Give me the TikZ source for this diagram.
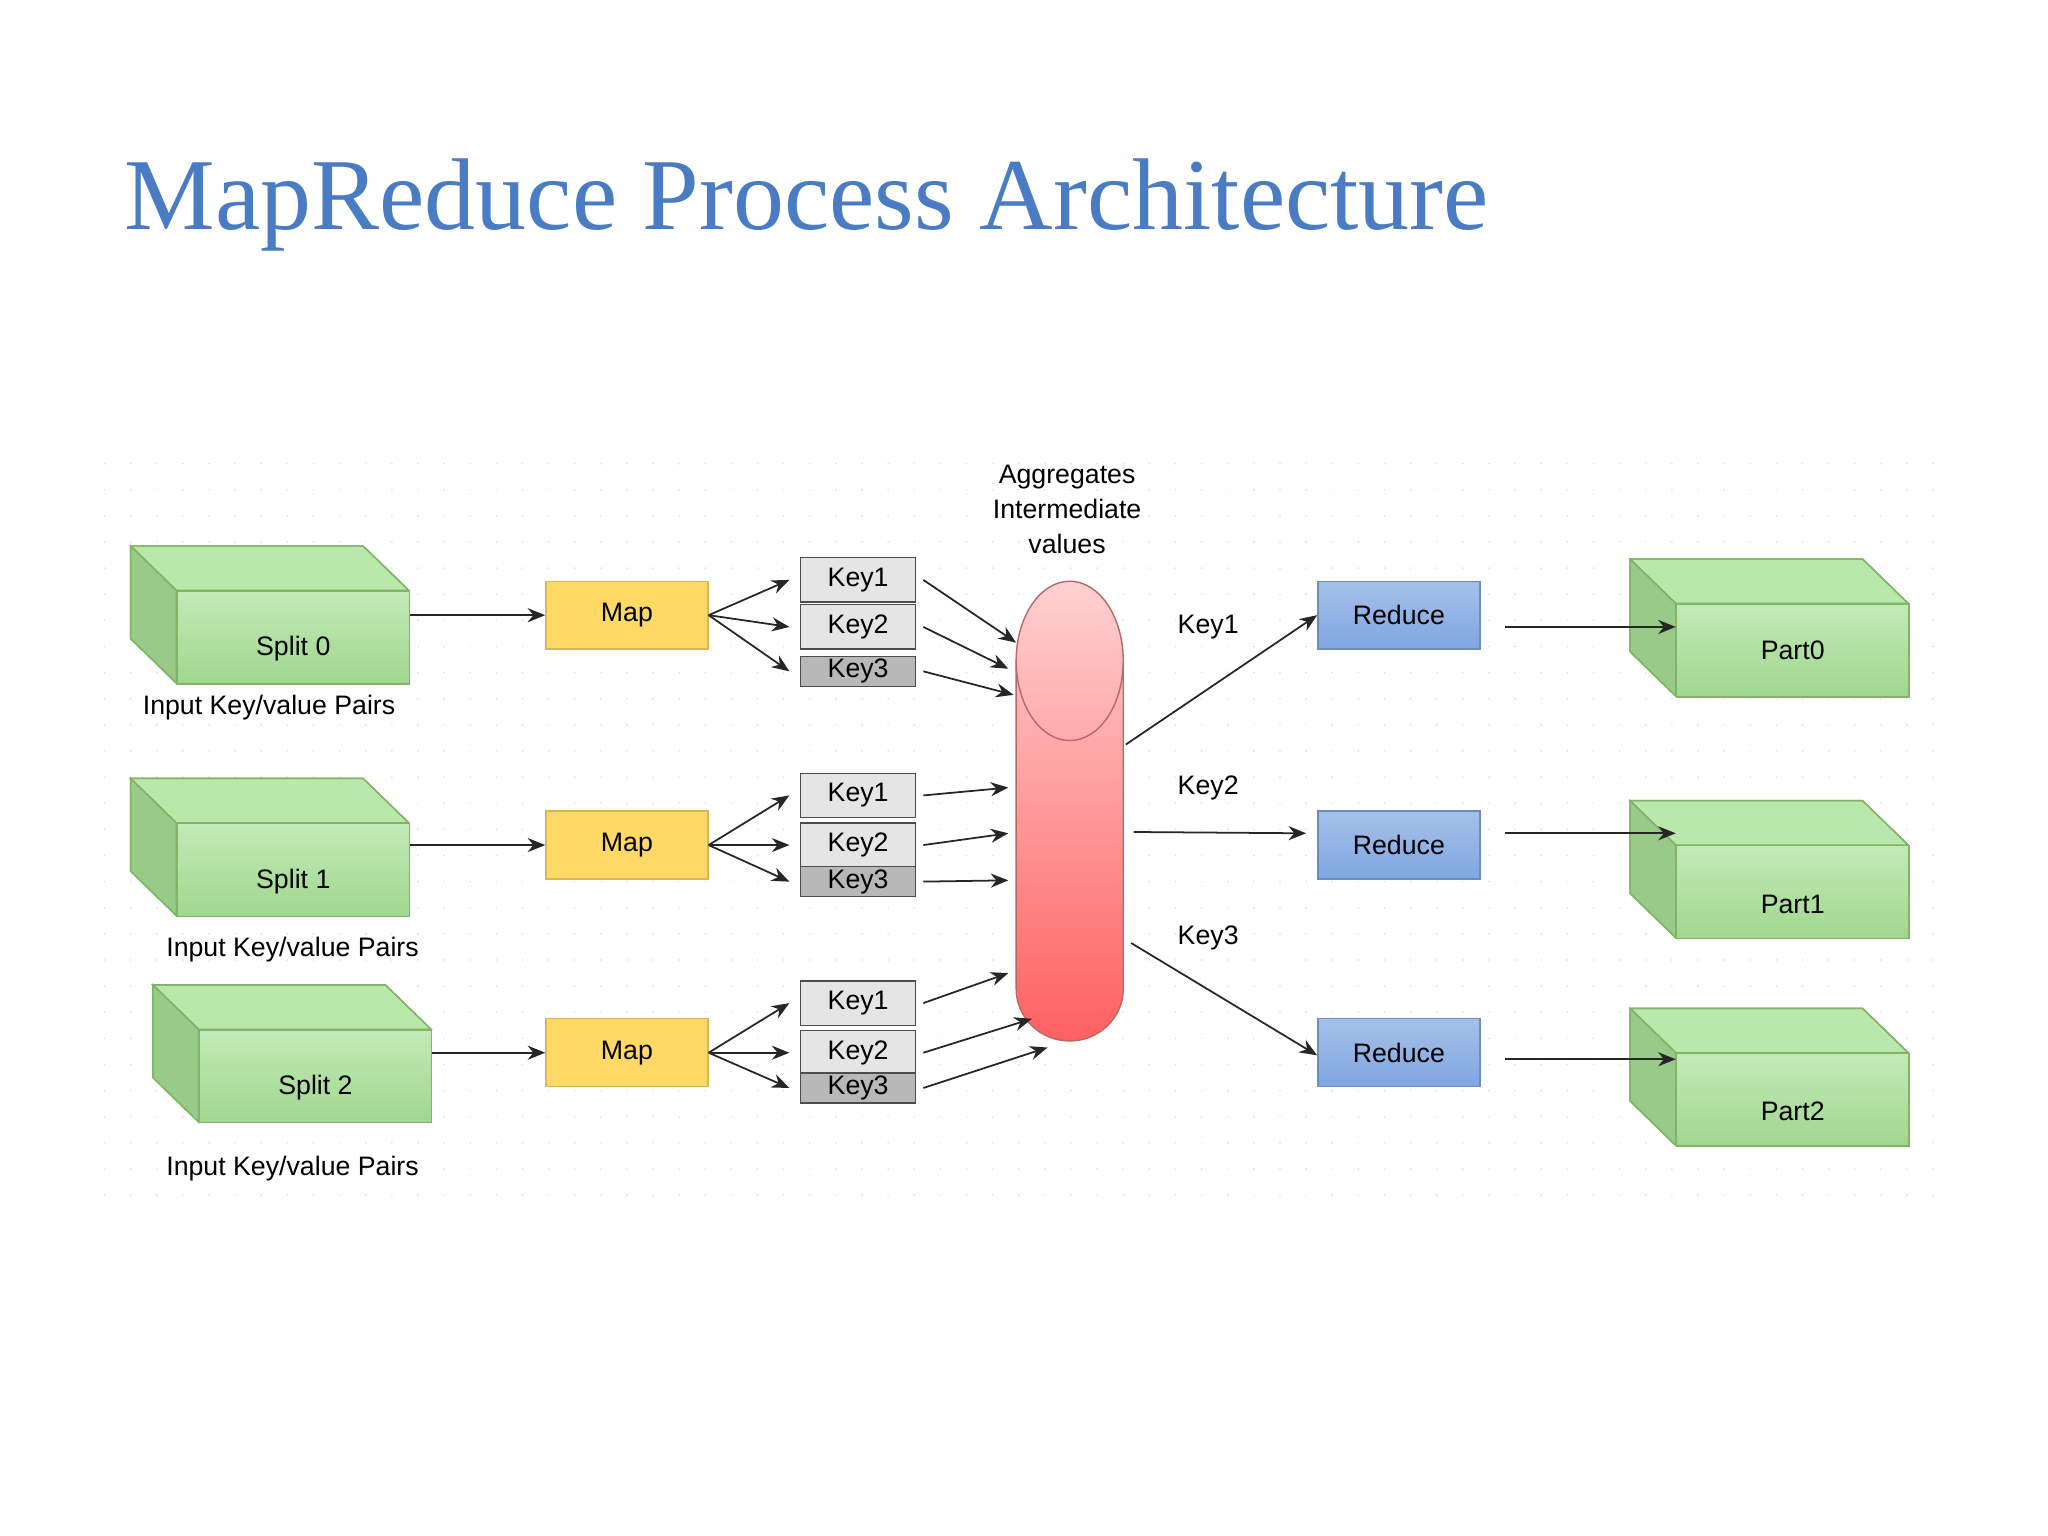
\documentclass[tikz,border=0pt]{standalone}
\usepackage{fontspec}
\setmainfont{Liberation Sans}
\newfontfamily\titlefont{Liberation Serif}
\usetikzlibrary{arrows.meta}
\def\px{0.01306cm}
\definecolor{titleblue}{HTML}{4A7CC4}
\definecolor{gfill}{HTML}{A8E296}
\definecolor{gline}{HTML}{82B366}
\definecolor{yfill}{HTML}{FFD966}
\definecolor{yline}{HTML}{D6B656}
\definecolor{bfill}{HTML}{7EA6E0}
\definecolor{bline}{HTML}{6C8EBF}
\tikzset{
  txt/.style={font=\fontsize{7.6}{9}\selectfont, align=center, inner sep=0},
  front/.style={txt, draw=gline, top color=gfill!70, bottom color=gfill!95!black, minimum width=178*\px, minimum height=71*\px},
  face/.style={draw=gline, fill=gfill!80},
  mapbox/.style={txt, draw=yline, fill=yfill, minimum width=124*\px, minimum height=52*\px},
  redbox/.style={txt, draw=bline, top color=bfill!70, bottom color=bfill, minimum width=124*\px, minimum height=52*\px},
  key/.style={txt, draw=black!70, fill=black!10, minimum width=88*\px, minimum height=34*\px},
  key3/.style={key, fill=black!28, minimum height=23*\px},
  arr/.style={-{Stealth[length=5pt,width=4pt]}, black!85, line width=0.5pt},
}
\newcommand{\cuboid}[4]{% name, left x of front, top y of front, label
  \fill[face] (#2-35,#3-34) -- (#2+178-35,#3-34) -- (#2+178,#3) -- (#2,#3) -- cycle;
  \fill[face, fill=gfill!90!black] (#2-35,#3-34) -- (#2,#3) -- (#2,#3+71) -- (#2-35,#3+37) -- cycle;
  \draw[gline] (#2-35,#3-34) -- (#2+178-35,#3-34) -- (#2+178,#3) (#2-35,#3-34) -- (#2,#3) (#2-35,#3-34) -- (#2-35,#3+37) -- (#2,#3+71);
  \node[front, anchor=north west] (#1) at (#2,#3) {#4};
}
\begin{document}
\begin{tikzpicture}[x=\px, y=-\px]
\useasboundingbox (0,0) rectangle (1568,1176);
\fill[white] (0,0) rectangle (1568,1176);
% title
\node[anchor=base west, inner sep=0, text=titleblue, font=\titlefont\fontsize{29}{34}\selectfont] (title) at (95,176) {MapReduce Process Architecture};
% dotted background
\foreach \x in {80,100,...,1480} \foreach \y in {355,375,...,925} \fill[black!12] (\x,\y) circle (0.7);
% 3D boxes
\cuboid{s0}{135}{452}{\raisebox{-12pt}{Split 0}}
\cuboid{s1}{135}{630}{\raisebox{-12pt}{Split 1}}
\cuboid{s2}{152}{788}{\raisebox{-12pt}{Split 2}}
\cuboid{p0}{1283}{462}{\raisebox{-3pt}{Part0}}
\cuboid{p1}{1283}{647}{\raisebox{-12pt}{Part1}}
\cuboid{p2}{1283}{806}{\raisebox{-12pt}{Part2}}
\node[txt] (l0) at (206,542) {Input Key/value Pairs};
\node[txt] (l1) at (224,727) {Input Key/value Pairs};
\node[txt] (l2) at (224,895) {Input Key/value Pairs};
% maps
\node[mapbox] (m0) at (480,471) {Map};
\node[mapbox] (m1) at (480,647) {Map};
\node[mapbox] (m2) at (480,806) {Map};
% keys
\node[key] (k01) at (657,444) {Key1};
\node[key] (k02) at (657,480) {Key2};
\node[key3] (k03) at (657,514) {Key3};
\node[key] (k11) at (657,609) {Key1};
\node[key] (k12) at (657,647) {Key2};
\node[key3] (k13) at (657,675) {Key3};
\node[key] (k21) at (657,768) {Key1};
\node[key] (k22) at (657,806) {Key2};
\node[key3] (k23) at (657,833) {Key3};
% cylinder
\node[inner sep=0, minimum width=82*\px, minimum height=352*\px] (cyl) at (819,621) {};
\shade[top color=red!18, bottom color=red!62, draw=red!55!black!60]
  (778,506) arc[start angle=180, end angle=360, x radius=41, y radius=61]
  -- (860,757) arc[start angle=0, end angle=180, x radius=41, y radius=40] -- cycle;
\draw[red!55!black!60] (778,506) arc[start angle=180, end angle=0, x radius=41, y radius=61];
\node[txt, align=center] (agg) at (817,390) {Aggregates\\[1pt]Intermediate\\[1pt]values};
% reduces
\node[redbox] (r0) at (1071,471) {Reduce};
\node[redbox] (r1) at (1071,647) {Reduce};
\node[redbox] (r2) at (1071,806) {Reduce};
% arrows split -> map
\draw[arr] (s0.east |- m0.west) -- (m0.west);
\draw[arr] (s1.east |- m1.west) -- (m1.west);
\draw[arr] (s2.east |- m2.west) -- (m2.west);
% map -> keys
\foreach \k in {0,1,2} {
  \draw[arr] (m\k.east) -- ([xshift=-3pt]k\k1.west);
  \draw[arr] (m\k.east) -- ([xshift=-3pt]k\k2.west);
  \draw[arr] (m\k.east) -- ([xshift=-3pt]k\k3.west);
}
% keys -> cylinder
\coordinate (c01) at (778,492); \coordinate (c02) at (772,512); \coordinate (c03) at (776,532);
\coordinate (c11) at (772,603); \coordinate (c12) at (772,638); \coordinate (c13) at (772,674);
\coordinate (c21) at (772,745); \coordinate (c22) at (790,780); \coordinate (c23) at (802,802);
\foreach \k in {0,1,2} \foreach \j in {1,2,3}
  \draw[arr] ([xshift=2pt]k\k\j.east) -- (c\k\j);
% cylinder -> reduce
\coordinate (o1) at (862,570); \coordinate (o2) at (868,637); \coordinate (o3) at (866,722);
\coordinate (i2) at (1000,638);
\draw[arr] (o1) -- (r0.west);
\draw[arr] (o2) -- (i2);
\draw[arr] (o3) -- ([yshift=-2*\px]r2.west);
\node[txt] (kl1) at (925,480) {Key1};
\node[txt] (kl2) at (925,603) {Key2};
\node[txt] (kl3) at (925,718) {Key3};
% reduce -> parts
\draw[arr] ([xshift=7pt,yshift=-9*\px]r0.east) -- ([yshift=-9*\px]p0.west |- r0.east);
\draw[arr] ([xshift=7pt,yshift=9*\px]r1.east) -- ([yshift=9*\px]p1.west |- r1.east);
\draw[arr] ([xshift=7pt,yshift=-5*\px]r2.east) -- ([yshift=-5*\px]p2.west |- r2.east);
\end{tikzpicture}
\end{document}
